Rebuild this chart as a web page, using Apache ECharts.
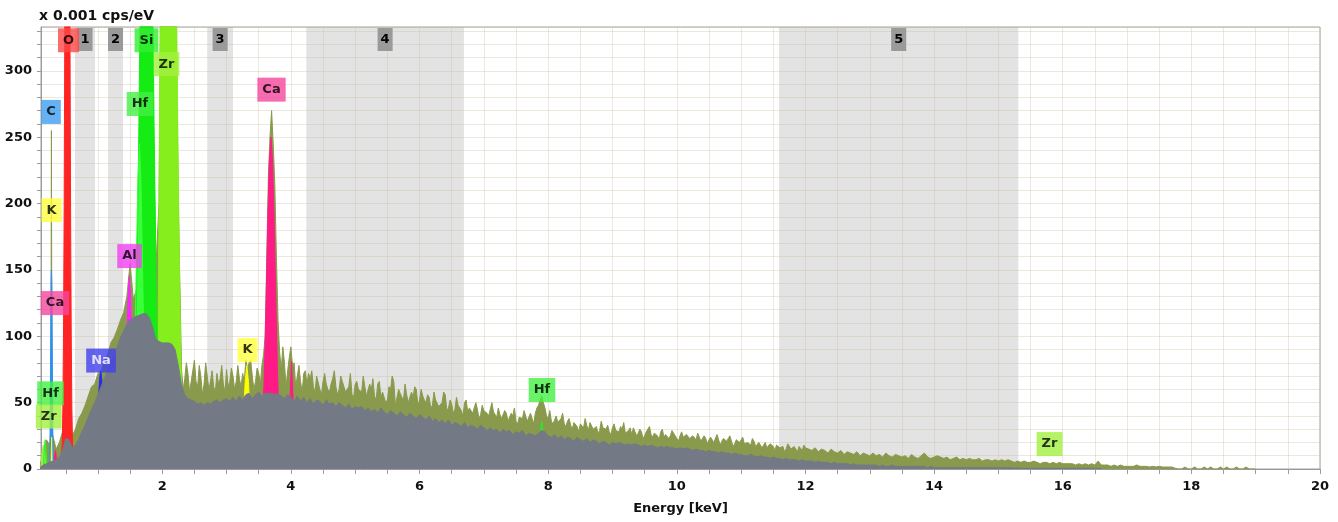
<!DOCTYPE html>
<html><head><meta charset="utf-8">
<script src="https://cdn.jsdelivr.net/npm/echarts@6/dist/echarts.min.js"></script>
<style>html,body{margin:0;padding:0;background:#fff}#c{width:1338px;height:522px}</style>
</head><body><div id="c"></div>
<script>
// ---- channel grid of the spectrum (keV) ----
const E_START = 0.10, E_STEP = 0.05;

// measured spectrum (olive), x 0.001 cps/eV, one value per channel from 0.10 keV
const measured = [
  3, 12, 22, 18, 25, 15, 20, 28, 40, 45, 25, 30, 38, 42, 48, 55, 62, 64, 72, 74,
  82, 86, 95, 99, 105, 112, 118, 130, 155, 128, 135, 250, 400, 500, 400, 300, 150, 200, 500, 500,
  500, 500, 400, 200, 75, 68, 72, 66, 82, 62, 70, 64, 70, 66, 62, 72, 68, 64, 75, 66,
  70, 66, 68, 72, 82, 80, 70, 66, 72, 78, 100, 220, 270, 215, 112, 75, 80, 74, 92, 80,
  70, 66, 72, 64, 68, 62, 70, 60, 66, 64, 58, 68, 62, 60, 66, 58, 62, 56, 64, 60,
  58, 62, 56, 60, 55, 64, 54, 58, 52, 60, 66, 54, 57, 52, 56, 50, 54, 60, 52, 55,
  50, 54, 48, 52, 47, 50, 56, 46, 49, 45, 48, 44, 50, 43, 46, 42, 45, 41, 44, 42,
  40, 43, 39, 41, 38, 42, 37, 40, 36, 39, 38, 40, 36, 38, 42, 48, 55, 46, 38, 36,
  37, 35, 38, 34, 36, 33, 35, 32, 34, 31, 33, 35, 30, 32, 29, 31, 30, 28, 31, 29,
  28, 30, 27, 29, 26, 30, 27, 28, 25, 29, 26, 27, 25, 28, 24, 26, 25, 27, 24, 25,
  24, 26, 23, 25, 22, 24, 21, 23, 22, 24, 20, 22, 21, 23, 20, 21, 19, 22, 20, 19,
  20, 18, 21, 17, 19, 18, 16, 19, 17, 18, 16, 17, 15, 18, 16, 15, 17, 14, 16, 15,
  14, 16, 13, 15, 14, 12, 15, 13, 12, 14, 11, 13, 12, 11, 13, 10, 12, 11, 10, 12,
  10, 11, 9, 12, 10, 9, 11, 10, 9, 10, 8, 11, 9, 8, 10, 12, 9, 8, 9, 10,
  9, 8, 9, 7, 8, 9, 7, 8, 7, 8, 7, 7, 8, 6, 7, 7, 6, 7, 6, 7,
  6, 7, 6, 5, 6, 5, 6, 5, 5, 6, 5, 4, 5, 5, 4, 5, 4, 5, 4, 4,
  4, 4, 3, 4, 3, 4, 3, 4, 3, 6, 3, 3, 3, 2, 3, 2, 3, 2, 2, 2,
  2, 3, 2, 2, 2, 1.5, 2, 1.5, 2, 1.5, 1.5, 1.5, 1.5, 0.5, 0, 0, 1.5, 0, 0, 1.5,
  0, 0, 1.5, 0, 1.5, 0, 0, 1.5, 0, 1.5, 0, 0, 1.5, 0, 0, 1.5, 0, 0, 0
];
// measured values half-way between channels, from 2.325 keV to 11.975 keV
const MID_START = 2.325;
const measuredMid = [
  60, 80, 58, 74, 66, 78, 56, 80, 60, 74, 58, 64, 78, 58, 62, 76, 60, 78, 62, 66,
  76, 82, 60, 76, 64, 86, 160, 250, 245, 160, 88, 92, 62, 84, 78, 62, 78, 58, 74, 72,
  74, 58, 70, 56, 72, 60, 64, 74, 56, 70, 62, 58, 72, 54, 66, 60, 70, 55, 64, 68,
  52, 66, 58, 50, 62, 70, 48, 60, 54, 64, 50, 58, 62, 48, 60, 52, 56, 46, 58, 52,
  46, 58, 44, 52, 42, 54, 48, 40, 52, 46, 42, 50, 38, 48, 44, 40, 50, 42, 46, 38,
  44, 36, 42, 46, 34, 40, 44, 36, 42, 34, 46, 52, 50, 40, 44, 34, 40, 36, 42, 32,
  38, 30, 36, 28, 34, 38, 29, 35, 31, 27, 36, 30, 33, 26, 34, 29, 32, 35, 27, 31,
  31, 25, 30, 23, 28, 32, 24, 27, 22, 30, 26, 23, 29, 25, 21, 28, 24, 27, 22, 26,
  27, 21, 25, 19, 24, 20, 26, 18, 23, 21, 25, 17, 22, 20, 24, 18, 21, 23, 17, 20,
  16, 20, 15, 19, 14, 18, 17, 13, 19, 15, 17, 13, 16, 18
];
// narrow measured spike of the C line (energy, value)
const measuredSpikes = [[0.268, 30], [0.277, 255], [0.286, 28]];

// background / second spectrum (grey), same channel grid
const background = [
  1, 3, 4, 5, 6, 7, 9, 14, 23, 22, 16, 18, 22, 28, 33, 39, 45, 50, 56, 62,
  68, 74, 80, 86, 92, 99, 104, 109, 112, 114, 115, 116, 117, 117, 114, 107, 98, 96, 95, 95,
  95, 94, 90, 78, 63, 56, 53, 52, 51, 49, 50, 48, 50, 49, 51, 52, 50, 52, 53, 51,
  54, 51, 55, 52, 56, 57, 53, 56, 58, 55, 57, 57, 57, 56, 57, 55, 53, 56, 54, 51,
  55, 51, 54, 50, 53, 49, 52, 51, 48, 52, 49, 50, 47, 50, 48, 46, 49, 45, 47, 46,
  47, 44, 46, 43, 45, 42, 46, 43, 41, 44, 42, 40, 43, 41, 39, 42, 40, 38, 41, 39,
  37, 40, 36, 38, 35, 37, 34, 37, 33, 35, 34, 32, 35, 31, 33, 32, 30, 33, 31, 29,
  31, 29, 30, 27, 30, 28, 29, 26, 28, 27, 29, 25, 27, 26, 25, 27, 29, 28, 25, 24,
  26, 23, 25, 22, 24, 23, 21, 24, 22, 21, 23, 20, 22, 21, 19, 21, 20, 18, 20, 19,
  20, 19, 18, 19, 18, 19, 18, 17, 18, 17, 18, 17, 16, 17, 16, 17, 16, 16, 15, 16,
  15, 16, 15, 14, 15, 14, 14, 13, 14, 13, 13, 12, 13, 12, 12, 11, 12, 11, 11, 10,
  10, 11, 10, 9, 10, 9, 9, 8, 9, 8, 8, 7, 8, 7, 7, 7, 6, 7, 6, 6,
  6, 5, 6, 5, 5, 5, 4, 5, 4, 4, 4, 4, 3, 4, 3, 3, 3, 3, 3, 3,
  3, 2, 3, 2, 2, 3, 2, 2, 2, 2, 2, 2, 2, 2, 2, 2, 1, 2, 1, 1,
  1, 1, 1, 1, 1, 1, 1, 1, 1, 1, 1, 1, 1, 1, 1, 1, 1, 1, 1, 1,
  1, 1, 1, 0.5, 1, 0.5, 0.5, 0.5, 0.5, 0.5, 0.5, 0.5, 0.5, 0.5, 0.5, 0.5, 0.5, 0.5, 0.5, 0.5,
  0.5, 0.5, 0.5, 0.5, 0.5, 0.5, 0.5, 0.5, 0.5, 0.5, 0
];

// element peak fits: [energy keV, value]
const peakLowZr = [[0.115,0],[0.13,12],[0.15,18],[0.17,10],[0.19,0]];
const peakLowHf = [[0.15,0],[0.165,15],[0.18,22],[0.195,12],[0.21,0]];
const peakC  = [[0.245,0],[0.255,20],[0.265,90],[0.272,140],[0.277,150],[0.283,140],[0.29,90],[0.30,20],[0.31,0]];
const peakLowK = [[0.27,0],[0.28,24],[0.29,0]];
const peakLowCa = [[0.31,0],[0.325,10],[0.34,14],[0.355,8],[0.37,0]];
const peakO  = [[0.43,7],[0.445,19],[0.455,46],[0.465,101],[0.475,195],[0.485,334],[0.495,507],[0.505,685],[0.515,820],[0.525,870],[0.535,820],[0.545,685],[0.555,507],[0.565,334],[0.575,195],[0.585,101],[0.595,46],[0.605,19],[0.62,7]];
const peakNa = [[0.96,0],[0.99,30],[1.01,55],[1.03,70],[1.045,74],[1.06,68],[1.08,50],[1.10,25],[1.13,0]];
const peakAl = [[1.387,6],[1.407,20],[1.427,47],[1.447,88],[1.467,128],[1.487,145],[1.507,128],[1.527,88],[1.547,47],[1.567,20],[1.587,6]];
const peakHfM = [[1.52,11],[1.545,33],[1.57,79],[1.595,149],[1.62,216],[1.645,245],[1.67,216],[1.695,149],[1.72,79],[1.745,33],[1.77,11]];
const peakSi = [[1.515,13],[1.545,32],[1.575,72],[1.605,143],[1.635,251],[1.665,388],[1.695,530],[1.725,639],[1.755,680],[1.785,639],[1.815,530],[1.845,388],[1.875,251],[1.905,143],[1.935,72],[1.965,32],[1.995,13]];
const peakZrL = [[1.90,20],[1.93,80],[1.95,200],[1.97,360],[2.00,560],[2.04,700],[2.08,720],[2.12,690],[2.16,600],[2.19,480],[2.22,360],[2.245,240],[2.27,140],[2.29,80],[2.31,50],[2.34,25],[2.37,8],[2.40,0]];
const peakK  = [[3.20,3],[3.23,13],[3.26,37],[3.29,66],[3.315,78],[3.34,66],[3.37,37],[3.40,13],[3.43,3]];
const peakCaKa = [[3.54,17],[3.565,39],[3.59,77],[3.615,128],[3.64,186],[3.665,232],[3.69,250],[3.715,232],[3.74,186],[3.765,128],[3.79,77],[3.815,39],[3.84,17]];
const peakCaKb = [[3.95,5],[3.98,45],[4.01,81],[4.04,45],[4.07,5]];
const peakHfL = [[7.84,0],[7.87,20],[7.90,36],[7.93,20],[7.96,0]];

// element labels: name, energy, value, box colour, text colour
const elementLabels = [
  ['O', 0.543, 323, '#ff4747', '#000'],
  ['C', 0.271, 269, '#3d9ef0', '#000'],
  ['K', 0.278, 195, '#ffff40', '#000'],
  ['Ca', 0.333, 125, '#f5469e', '#000'],
  ['Hf', 0.263, 57, '#44f044', '#000'],
  ['Zr', 0.235, 39.5, '#a2f040', '#000'],
  ['Na', 1.048, 81.7, '#4040ee', '#fff'],
  ['Al', 1.491, 160.4, '#f040f0', '#000'],
  ['Si', 1.755, 323, '#33ee33', '#000'],
  ['Hf', 1.654, 275, '#44f044', '#000'],
  ['Zr', 2.066, 305, '#a2f040', '#000'],
  ['Ca', 3.699, 285.8, '#f5469e', '#000'],
  ['K', 3.326, 89.6, '#ffff40', '#000'],
  ['Hf', 7.904, 59.5, '#44f044', '#000'],
  ['Zr', 15.795, 18.8, '#a2f040', '#000']
];

// region bands
const bandLabels = ['1', '2', '3', '4', '5'];
const bandStart = [0.644, 1.157, 2.70, 4.24, 11.59];
const bandEnd   = [0.955, 1.390, 3.10, 6.69, 15.31];

// tick labels
const xTickLabels = [2, 4, 6, 8, 10, 12, 14, 16, 18, 20];
const yTickLabels = [0, 50, 100, 150, 200, 250, 300];

// ---- build ----
const FONT = 'DejaVu Sans';
const energyAt = i => +(E_START + i * E_STEP).toFixed(3);
const midAt = i => +(MID_START + i * E_STEP).toFixed(3);
const measuredPairs = measured.map((v, i) => [energyAt(i), v])
  .concat(measuredMid.map((v, i) => [midAt(i), v]))
  .concat(measuredSpikes)
  .sort((a, b) => a[0] - b[0]);
const backgroundPairs = background.map((v, i) => [energyAt(i), v]);
const isIn = (list, v) => list.some(t => Math.abs(t - v) < 1e-6);

function areaSeries(name, data, color, z) {
  return {
    name, type: 'line', data, z, symbol: 'none', showSymbol: false, sampling: null,
    lineStyle: { width: 1, color }, areaStyle: { color, opacity: 1 },
    animation: false, silent: true
  };
}

const option = {
  animation: false,
  title: {
    text: 'x 0.001 cps/eV', left: 39, top: 9, padding: 0,
    textStyle: { fontFamily: FONT, fontSize: 14, fontWeight: 'bold', color: '#111' }
  },
  grid: { left: 41, right: 18, top: 27, bottom: 53, show: true, backgroundColor: 'transparent', borderColor: '#a0a0a0', borderWidth: 1 },
  xAxis: {
    type: 'value', min: 0.115, max: 20, splitNumber: 40, minInterval: 0.5, maxInterval: 0.5,
    name: 'Energy [keV]', nameLocation: 'middle', nameGap: 33,
    nameTextStyle: { fontFamily: FONT, fontSize: 13, fontWeight: 'bold', color: '#111' },
    axisLine: { show: true, onZero: false, lineStyle: { color: '#9a9a9a', width: 1 } },
    axisTick: { show: true, length: 5, lineStyle: { color: '#9a9a9a' } },
    axisLabel: { show: true, margin: 11, fontFamily: FONT, fontSize: 13, fontWeight: 'bold', color: '#111',
      showMinLabel: false, formatter: v => isIn(xTickLabels, v) ? String(Math.round(v)) : '' },
    splitLine: { show: true, lineStyle: { color: 'rgba(200,190,160,0.35)', width: 1 } }
  },
  yAxis: {
    type: 'value', min: 0, max: 333, interval: 10,
    axisLine: { show: true, lineStyle: { color: '#9a9a9a', width: 1 } },
    axisTick: { show: true, length: 4, lineStyle: { color: '#9a9a9a' } },
    axisLabel: { show: true, margin: 9, fontFamily: FONT, fontSize: 13, fontWeight: 'bold', color: '#111',
      showMaxLabel: false, formatter: v => isIn(yTickLabels, v) ? String(v) : '' },
    splitLine: { show: true, lineStyle: { color: 'rgba(200,190,160,0.35)', width: 1 } }
  },
  series: [
    {
      name: 'bands', type: 'line', data: [], silent: true, z: -1,
      markArea: {
        z: -1, silent: true, itemStyle: { color: '#e3e3e3' }, label: { show: false },
        data: bandStart.map((s, i) => [{ xAxis: s }, { xAxis: bandEnd[i] }])
      }
    },
    areaSeries('measured', measuredPairs, '#8a9a4c', 2),
    areaSeries('Zr L low', peakLowZr, '#9af03a', 3),
    areaSeries('Hf low', peakLowHf, '#33f033', 3),
    areaSeries('C', peakC, '#2f8ff5', 3),
    areaSeries('K low', peakLowK, '#ffff00', 3),
    areaSeries('Ca low', peakLowCa, '#ff1a8c', 3),
    areaSeries('O', peakO, '#ff2424', 3),
    areaSeries('Na', peakNa, '#2a2af5', 3),
    areaSeries('Al', peakAl, '#ff22ff', 3),
    areaSeries('Zr L', peakZrL, '#86ee1c', 3),
    areaSeries('Si', peakSi, '#14ec14', 3),
    areaSeries('Hf M', peakHfM, '#3cff3c', 3),
    areaSeries('K', peakK, '#ffff00', 3),
    areaSeries('Ca Ka', peakCaKa, '#ff1a86', 3),
    areaSeries('Ca Kb', peakCaKb, '#ff1a86', 3),
    areaSeries('Hf L', peakHfL, '#22f022', 3),
    areaSeries('background', backgroundPairs, '#737a85', 4),
    {
      name: 'band labels', type: 'line', data: [], silent: true, z: 15,
      markArea: {
        z: 15, silent: true, itemStyle: { color: 'rgba(0,0,0,0)' },
        label: { show: true, position: 'insideTop', distance: 1, formatter: '{b}', backgroundColor: '#9a9a9a',
          color: '#000', fontFamily: FONT, fontSize: 13, fontWeight: 'bold', padding: [4, 3, 4, 3], lineHeight: 15 },
        data: bandStart.map((s, i) => [{ xAxis: s, name: bandLabels[i] }, { xAxis: bandEnd[i] }])
      }
    },
    {
      name: 'element labels', type: 'scatter', symbolSize: 0, z: 20, silent: true, clip: false,
      data: elementLabels.map(l => ({
        name: l[0], value: [l[1], l[2]],
        label: { backgroundColor: l[3], color: l[4] }
      })),
      label: { show: true, position: 'inside', formatter: '{b}', fontFamily: FONT, fontSize: 13, fontWeight: 'bold',
        padding: [4, 5, 4, 5], lineHeight: 16 }
    }
  ]
};
const chart = echarts.init(document.getElementById('c'));
chart.setOption(option);
</script>
</body></html>
